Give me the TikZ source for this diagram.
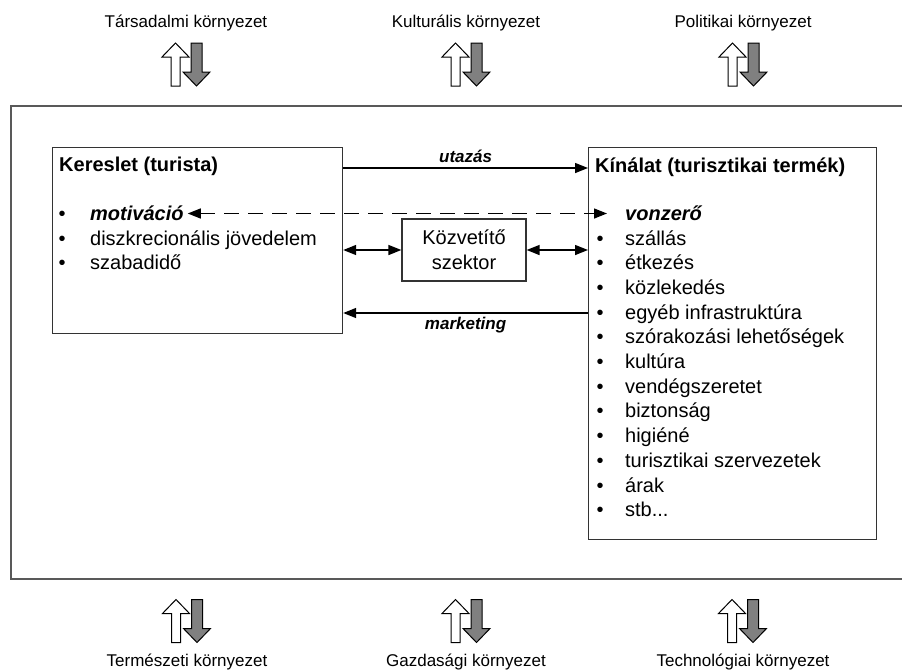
\documentclass[tikz,border=0pt]{standalone}
\usepackage{fontspec}
\setmainfont{Liberation Sans}
\usepackage{tikz}
\usetikzlibrary{arrows.meta, positioning}

\begin{document}
\begin{tikzpicture}[x=1pt, y=-1pt,
        box/.style={draw=black!80, line width=1.2pt, rectangle, inner sep=0pt},
        frame/.style={draw=black!65, line width=1.4pt},
        item/.style={inner sep=0pt, text height=19pt, text depth=5.3pt, font=\fontsize{20}{24}\selectfont},
        title/.style={inner sep=0pt, font=\fontsize{20}{24}\selectfont\bfseries},
        env/.style={inner sep=0pt, font=\fontsize{17}{20}\selectfont},
        lbl/.style={inner sep=0pt, font=\fontsize{17}{20}\selectfont\bfseries\itshape},
        arr/.style={-{Triangle[length=13pt,width=10pt]}, line width=1.4pt},
        dblarr/.style={{Triangle[length=13pt,width=10pt]}-{Triangle[length=13pt,width=10pt]}, line width=1.4pt},
        dasharr/.style={dblarr, dash pattern=on 15pt off 9pt},
        updown/.pic={
            \draw[fill=white, line width=1pt] (-10.5,-21.5) -- (3,-7.5) -- (-6,-7.5) -- (-6,21.5)
                -- (-15,21.5) -- (-15,-7.5) -- (-24,-7.5) -- cycle;
            \draw[fill=black!50, line width=1pt] (5,-21.5) -- (16,-21.5) -- (16,7.5) -- (24,7.5)
                -- (10.5,21.5) -- (-3,7.5) -- (5,7.5) -- cycle;
        }
    ]
        \useasboundingbox (0,0) rectangle (902,670);

        % környezet felül
        \node[env] (tars) at (186,23) {Társadalmi környezet};
        \node[env] (kult) at (466,23) {Kulturális környezet};
        \node[env] (pol) at (743,23) {Politikai környezet};
        \pic at (186,64.5) {updown};
        \pic at (466,64.5) {updown};
        \pic at (743,64.5) {updown};

        % keret
        \draw[frame] (902,106) -| (11,579) -- (902,579);

        % kereslet
        \node[box, minimum width=290pt, minimum height=186pt, anchor=north west] (kereslet) at (52,147) {};
        \node[title, anchor=west] (kertitle) at (59,166) {Kereslet (turista)};
        \node[item, anchor=west] (motiv) at (58.5,213.5) {\makebox[31.5pt][l]{•}\textbf{\textit{motiváció}}};
        \node[item, below=0pt of motiv.south west, anchor=north west] (diszk) {\makebox[31.5pt][l]{•}diszkrecionális jövedelem};
        \node[item, below=0pt of diszk.south west, anchor=north west] (szabad) {\makebox[31.5pt][l]{•}szabadidő};

        % kínálat
        \node[box, minimum width=288pt, minimum height=392pt, anchor=north west] (kinalat) at (588,147) {};
        \node[title, anchor=west] (kintitle) at (595,167) {Kínálat (turisztikai termék)};
        \node[item, anchor=west] (vonz) at (596.5,213.5) {\hspace*{28.5pt}\textbf{\textit{vonzerő}}};
        \node[item, below=0pt of vonz.south west, anchor=north west] (szall) {\makebox[28.5pt][l]{•}szállás};
        \node[item, below=0pt of szall.south west, anchor=north west] (etk) {\makebox[28.5pt][l]{•}étkezés};
        \node[item, below=0pt of etk.south west, anchor=north west] (kozl) {\makebox[28.5pt][l]{•}közlekedés};
        \node[item, below=0pt of kozl.south west, anchor=north west] (infra) {\makebox[28.5pt][l]{•}egyéb infrastruktúra};
        \node[item, below=0pt of infra.south west, anchor=north west] (szor) {\makebox[28.5pt][l]{•}szórakozási lehetőségek};
        \node[item, below=0pt of szor.south west, anchor=north west] (kult2) {\makebox[28.5pt][l]{•}kultúra};
        \node[item, below=0pt of kult2.south west, anchor=north west] (vend) {\makebox[28.5pt][l]{•}vendégszeretet};
        \node[item, below=0pt of vend.south west, anchor=north west] (bizt) {\makebox[28.5pt][l]{•}biztonság};
        \node[item, below=0pt of bizt.south west, anchor=north west] (hig) {\makebox[28.5pt][l]{•}higiéné};
        \node[item, below=0pt of hig.south west, anchor=north west] (szerv) {\makebox[28.5pt][l]{•}turisztikai szervezetek};
        \node[item, below=0pt of szerv.south west, anchor=north west] (arak) {\makebox[28.5pt][l]{•}árak};
        \node[item, below=0pt of arak.south west, anchor=north west] (stb) {\makebox[28.5pt][l]{•}stb...};

        % közvetítő szektor
        \node[box, minimum width=124pt, minimum height=62pt, align=center,
              font=\fontsize{20}{25}\selectfont] (kozv) at (464,250) {Közvetítő\\szektor};

        % kapcsolatok
        \draw[arr] ([yshift=-21pt]kereslet.north east) -- ([yshift=-21pt]kinalat.north west)
            node[lbl, midway, above=5pt] {utazás};
        \draw[arr] ([yshift=-166pt]kinalat.north west) -- ([yshift=-166pt]kereslet.north east)
            node[lbl, midway, below=3pt] {marketing};
        \draw[dblarr] (kereslet.east |- kozv.west) -- (kozv.west);
        \draw[dblarr] (kozv.east) -- (kinalat.west |- kozv.east);
        \draw[dasharr] ([xshift=4pt]motiv.east) -- ([xshift=10.5pt]vonz.west);

        % környezet alul
        \pic at (186.5,621) {updown};
        \pic at (466,621) {updown};
        \pic at (742.5,621) {updown};
        \node[env] (term) at (187,662) {Természeti környezet};
        \node[env] (gazd) at (466,662) {Gazdasági környezet};
        \node[env] (tech) at (743,662) {Technológiai környezet};
    \end{tikzpicture}
\end{document}
